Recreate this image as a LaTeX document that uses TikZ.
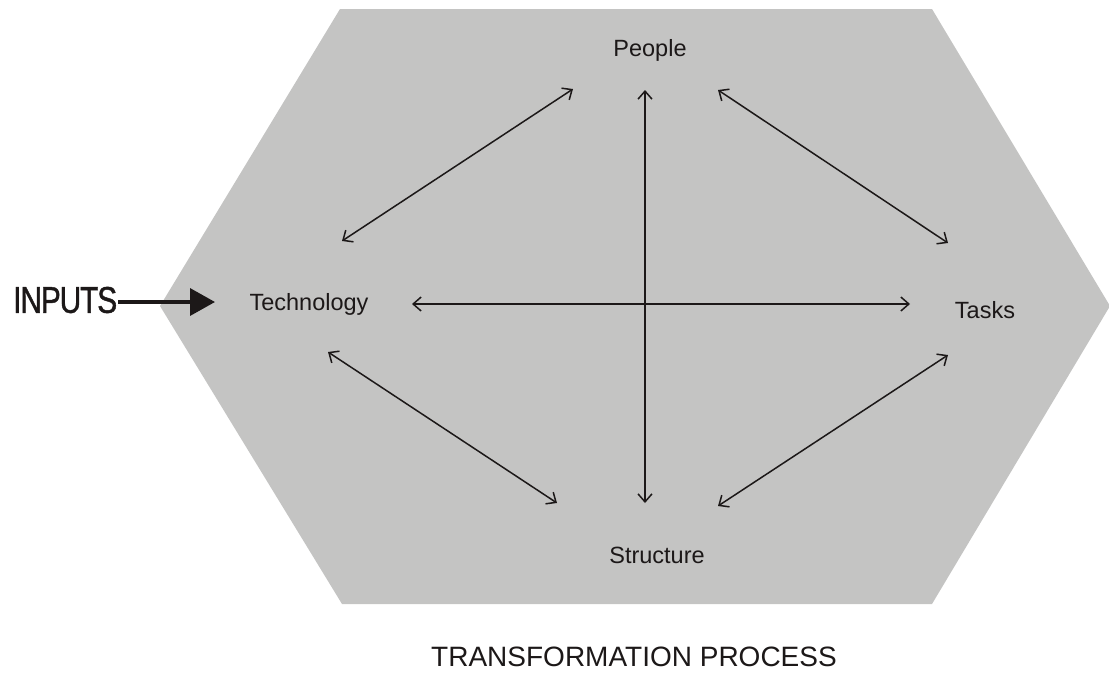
\documentclass[tikz,border=0pt]{standalone}
\usepackage{fontspec}
\setmainfont{Liberation Sans}
\newfontfamily\inputsfont[FakeBold=1.2,LetterSpace=-4]{Liberation Sans}
\usetikzlibrary{arrows.meta}
\definecolor{hexfill}{RGB}{196,196,195}
\definecolor{ink}{RGB}{28,24,24}
\begin{document}
\begin{tikzpicture}[x=1pt,y=-1pt,
  label/.style={inner sep=0pt,text=ink,font=\fontsize{23.5}{26}\selectfont},
  link/.style={draw=ink,line width=1.5pt,{Straight Barb[length=8pt,width=14pt]}-{Straight Barb[length=8pt,width=14pt]}},
  feed/.style={draw=ink,line width=3.5pt,-{Triangle[length=25pt,width=27pt]}}]
\useasboundingbox (0,0) rectangle (1109,673);
% hexagonal process area
\fill[hexfill] (340,9) -- (932,9) -- (1110,306) -- (932,604) -- (342,604) -- (160,306) -- cycle;

% labels
\node[label] (people) at (650,50) {People};
\node[label] (tech) at (309,304) {Technology};
\node[label] (tasks) at (985,310) {Tasks};
\node[label] (struct) at (657,555) {Structure};
\node[inner sep=0pt,text=ink,font=\fontsize{28}{32}\selectfont,anchor=base] (proc) at (634,666) {TRANSFORMATION PROCESS};
\node[inner sep=0pt,text=ink,font=\inputsfont\fontsize{36}{40}\selectfont,anchor=west] (inputs) at (13,300) {\resizebox{104pt}{26pt}{INPUTS}};

% connector end points
\coordinate (pt1) at (573,89);  \coordinate (pt2) at (342,241);
\coordinate (ps1) at (645,90);  \coordinate (ps2) at (645,503);
\coordinate (pk1) at (718,90);  \coordinate (pk2) at (948,243);
\coordinate (tk1) at (412,304); \coordinate (tk2) at (910,304);
\coordinate (ts1) at (328,352); \coordinate (ts2) at (557,503);
\coordinate (ks1) at (948,355); \coordinate (ks2) at (718,506);
\coordinate (in1) at (118,302); \coordinate (in2) at (215,302);

% relations
\draw[link] (pt1) -- (pt2);
\draw[link] (ps1) -- (ps2);
\draw[link] (pk1) -- (pk2);
\draw[link] (tk1) -- (tk2);
\draw[link] (ts1) -- (ts2);
\draw[link] (ks1) -- (ks2);

% input arrow
\draw[feed] (in1) -- (in2);
\end{tikzpicture}
\end{document}
